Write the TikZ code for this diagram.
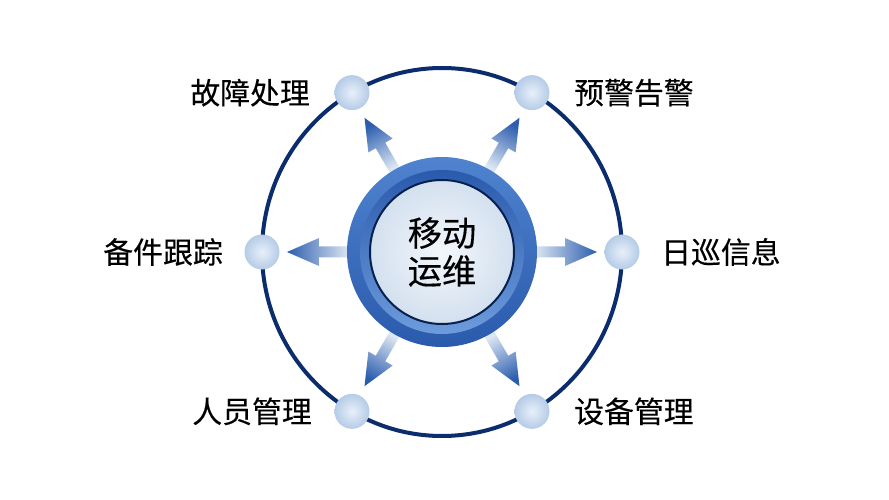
\documentclass[tikz,border=0pt]{standalone}
\usepackage{fontspec}
\usepackage{tikz}
\usetikzlibrary{positioning}
\newfontfamily\cjk[FakeBold=0.3]{Noto Sans CJK SC}

\definecolor{navy}{HTML}{0B2D6E}
\definecolor{ringtop}{HTML}{4F83CF}
\definecolor{ringbot}{HTML}{2A5AAC}
\definecolor{bevel}{HTML}{6E9BDC}
\definecolor{facein}{HTML}{F3F7FB}
\definecolor{faceout}{HTML}{D3E0EF}
\definecolor{arrowdark}{HTML}{2C5DAE}
\definecolor{arrowlight}{HTML}{DDE7F3}
\definecolor{dotin}{HTML}{E8F0F9}
\definecolor{dotout}{HTML}{B5CBE7}

\begin{document}
\begin{tikzpicture}[
      x=0.02cm, y=0.02cm,
      dot/.style = {circle, minimum size=35*0.02cm, inner sep=0pt,
                    shading=radial, inner color=dotin, outer color=dotout},
      lbl/.style = {inner sep=0pt, font=\cjk\fontsize{17}{20}\selectfont},
      hubtext/.style = {inner sep=0pt, align=center,
                        font=\cjk\fontsize{19.5}{21.6}\selectfont},
      orbit/.style = {draw=navy, line width=4*0.02cm}
    ]
    \useasboundingbox (-442,-248) rectangle (447,252);
    \def\rin{93}
    \def\rout{155}

    % big orbit
    \draw[orbit] (0,0) ellipse (180 and 184);

    % arrows out of the hub
    \foreach \a in {0,60,120,180,240,300}{
      \begin{scope}[rotate=\a]
        \path[left color=arrowlight, right color=arrowdark, shading angle=\a+90]
          (\rin,-5.5) -- (123,-5.5) -- (123,-14) -- (\rout,0)
          -- (123,14) -- (123,5.5) -- (\rin,5.5) -- cycle;
      \end{scope}
    }

    % hub
    \shade[top color=ringtop, bottom color=ringbot] (0,0) circle (95);
    \shade[top color=ringbot, bottom color=bevel] (0,0) circle (82);
    \draw[draw=navy!70!black, line width=2*0.02cm, shading=radial,
          inner color=facein, outer color=faceout] (0,0) circle (72);
    \node[hubtext] (hub) at (0,0) {移动\\运维};

    % dots on the orbit
    \foreach \a [count=\i from 0] in {0,60,120,180,240,300}{
      \node[dot] (dot\i) at (\a:180 and 184) {};
    }

    % labels
    \node[lbl, right=0.42cm of dot0] (lbl0) {日巡信息};
    \node[lbl, right=0.48cm of dot1] (lbl1) {预警告警};
    \node[lbl, left=0.48cm of dot2]  (lbl2) {故障处理};
    \node[lbl, left=0.42cm of dot3]  (lbl3) {备件跟踪};
    \node[lbl, left=0.44cm of dot4]  (lbl4) {人员管理};
    \node[lbl, right=0.48cm of dot5] (lbl5) {设备管理};
  \end{tikzpicture}
\end{document}
